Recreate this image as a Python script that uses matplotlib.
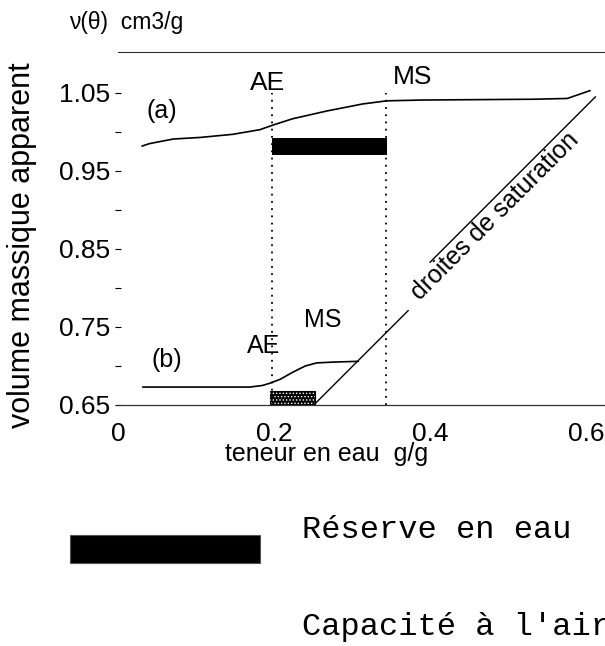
import matplotlib
matplotlib.use("Agg")
import matplotlib.pyplot as plt
from matplotlib.patches import Rectangle
import numpy as np

# ---- data ----
curve_a_x = [0.031, 0.040, 0.050, 0.071, 0.105, 0.147, 0.182, 0.199, 0.224, 0.268, 0.314, 0.345, 0.391, 0.532, 0.576, 0.605]
curve_a_y = [0.982, 0.985, 0.987, 0.991, 0.993, 0.997, 1.003, 1.009, 1.017, 1.027, 1.036, 1.040, 1.041, 1.042, 1.043, 1.053]
curve_b_x = [0.032, 0.169, 0.185, 0.195, 0.208, 0.224, 0.240, 0.255, 0.276, 0.308]
curve_b_y = [0.673, 0.673, 0.675, 0.678, 0.683, 0.692, 0.700, 0.704, 0.705, 0.706]
sat_b_x = [0.251, 0.372]
sat_b_y = [0.650, 0.771]
sat_a_x = [0.400, 0.612]
sat_a_y = [0.833, 1.045]
ae_x = 0.197
ms_x = 0.344
vline_top = 1.05
reserve_a = (0.197, 0.345, 0.971, 0.992)   # x0, x1, y0, y1
air_b = (0.195, 0.253, 0.650, 0.668)
xticks = [0, 0.2, 0.4, 0.6]
xtick_labels = ["0", "0.2", "0.4", "0.6"]
yticks = [0.65, 0.75, 0.85, 0.95, 1.05]
ytick_labels = ["0.65", "0.75", "0.85", "0.95", "1.05"]
yminor = [0.70, 0.80, 0.90, 1.00]

sans = ['Liberation Sans', 'DejaVu Sans']
mono = ['Liberation Mono', 'DejaVu Sans Mono']

W, H = 605, 646
fig = plt.figure(figsize=(W / 100, H / 100), dpi=100)
ax_left, ax_right, ax_bottom, ax_top = 118, 605, 405, 52
ax = fig.add_axes([ax_left / W, (H - ax_bottom) / H, (ax_right - ax_left) / W, (ax_bottom - ax_top) / H])
ax.set_xlim(0, (ax_right - ax_left) / 780)
ax.set_ylim(0.65, 0.65 + (ax_bottom - ax_top) / 780)

# curves
ax.plot(curve_a_x, curve_a_y, color='black', lw=1.2)
ax.plot(curve_b_x, curve_b_y, color='black', lw=1.2)
ax.plot(sat_b_x, sat_b_y, color='black', lw=1.0)
ax.plot(sat_a_x, sat_a_y, color='black', lw=1.0)

# vertical dotted lines
for xv in (ae_x, ms_x):
    ax.plot([xv, xv], [0.65, vline_top], color='black', lw=1.3, linestyle=(0, (1, 3)))

# bars
x0, x1, y0, y1 = reserve_a
ax.add_patch(Rectangle((x0, y0), x1 - x0, y1 - y0, facecolor='black', edgecolor='none'))
x0, x1, y0, y1 = air_b
ax.add_patch(Rectangle((x0, y0), x1 - x0, y1 - y0, facecolor='black', edgecolor='black', lw=0.8))
plt.rcParams['hatch.linewidth'] = 0.6
ax.add_patch(Rectangle((x0, y0), x1 - x0, y1 - y0, fill=False, hatch='.....', edgecolor='white', lw=0))

# spines
for s in ('right', 'left'):
    ax.spines[s].set_visible(False)
ax.spines['top'].set_linewidth(0.8)
ax.spines['bottom'].set_linewidth(0.9)
ax.spines['bottom'].set_color('#333333')
ax.spines['top'].set_color('#333333')

ax.set_xticks(xticks)
ax.set_xticklabels(xtick_labels, family=sans, fontsize=19)
ax.set_yticks(yticks)
ax.set_yticklabels(ytick_labels, family=sans, fontsize=19)
ax.set_yticks(yminor, minor=True)
ax.tick_params(axis='x', length=0, pad=12)
ax.tick_params(axis='y', which='both', direction='inout', length=5, width=0.8, pad=3)

# annotations
ax.text(0.192, 1.063, "AE", fontsize=19, family=sans, ha='center', va='center')
ax.text(0.378, 1.070, "MS", fontsize=19, family=sans, ha='center', va='center')
ax.text(0.056, 1.027, "(a)", fontsize=18, family=sans, ha='center', va='center')
ax.text(0.062, 0.708, "(b)", fontsize=18, family=sans, ha='center', va='center')
ax.text(0.186, 0.726, "AE", fontsize=18, family=sans, ha='center', va='center')
ax.text(0.262, 0.759, "MS", fontsize=18, family=sans, ha='center', va='center')
ax.text(0.483, 0.892, "droites de saturation", fontsize=18, family=sans,
        rotation=45, rotation_mode='anchor', ha='center', va='center')

# axis labels
fig.text(22 / W, 1 - 245 / H, "volume massique apparent", rotation=90, fontsize=22,
         family=sans, ha='center', va='center')
fig.text(327 / W, 1 - 454 / H, "teneur en eau  g/g", fontsize=18, family=sans,
         ha='center', va='center')
fig.text(126 / W, 1 - 23 / H, "ν(θ)  cm3/g", fontsize=16.5, family=sans, ha='center', va='center')

# legend
fig.patches.append(Rectangle((70 / W, (H - 563) / H), 190 / W, 28 / H, facecolor='black',
                             edgecolor='#555555', lw=0.8, transform=fig.transFigure, figure=fig))
fig.text(302 / W, (H - 538) / H, "Réserve en eau", fontsize=23, family=mono, ha='left', va='baseline')
fig.text(302 / W, (H - 635) / H, "Capacité à l'air", fontsize=23, family=mono, ha='left', va='baseline')

fig.savefig("out.png", dpi=100)
